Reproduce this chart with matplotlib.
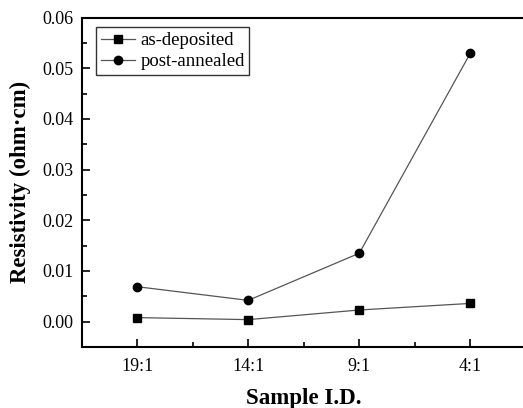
import matplotlib
matplotlib.use('Agg')
import matplotlib.pyplot as plt
from matplotlib.ticker import MultipleLocator, AutoMinorLocator

samples = ['19:1', '14:1', '9:1', '4:1']
as_deposited = [0.0008, 0.0004, 0.0023, 0.0036]
post_annealed = [0.0069, 0.0042, 0.0135, 0.0530]

plt.rcParams['font.family'] = ['Liberation Serif', 'DejaVu Serif']

fig = plt.figure(figsize=(5.23, 4.08), dpi=100)
ax = fig.add_axes([81.5 / 523, 1 - 347 / 408, (526 - 81.5) / 523, (347 - 17.5) / 408])

x = list(range(1, len(samples) + 1))
ax.plot(x, as_deposited, color='#555555', lw=0.9, marker='s', ms=5.5,
        mfc='black', mec='black', label='as-deposited')
ax.plot(x, post_annealed, color='#555555', lw=0.9, marker='o', ms=6,
        mfc='black', mec='black', label='post-annealed')

ax.set_xlim(0.5, 4.5)
ax.set_ylim(-0.005, 0.06)
ax.set_xticks(x)
ax.set_xticklabels(samples)
ax.xaxis.set_minor_locator(AutoMinorLocator(2))
ax.yaxis.set_major_locator(MultipleLocator(0.01))
ax.yaxis.set_minor_locator(MultipleLocator(0.005))
ax.yaxis.set_major_formatter(plt.FormatStrFormatter('%.2f'))

ax.tick_params(which='both', direction='in', labelsize=13, width=1.2)
ax.tick_params(which='major', length=6, pad=8)
ax.tick_params(which='minor', length=3.5)
ax.tick_params(axis='y', pad=6)
for s in ax.spines.values():
    s.set_linewidth(1.5)
ax.spines['right'].set_visible(False)

ax.set_xlabel('Sample I.D.', fontsize=16.5, fontweight='bold', labelpad=9)
ax.set_ylabel('Resistivity (ohm·cm)', fontsize=16.5, fontweight='bold', labelpad=8)

leg = ax.legend(loc='upper left', bbox_to_anchor=(0.033, 0.97), fontsize=13.5,
                frameon=True, fancybox=False, edgecolor='black',
                handlelength=1.8, handletextpad=0.3, borderpad=0.25,
                labelspacing=0.2, borderaxespad=0)
leg.get_frame().set_linewidth(1.0)

fig.savefig('out.png', dpi=100)
